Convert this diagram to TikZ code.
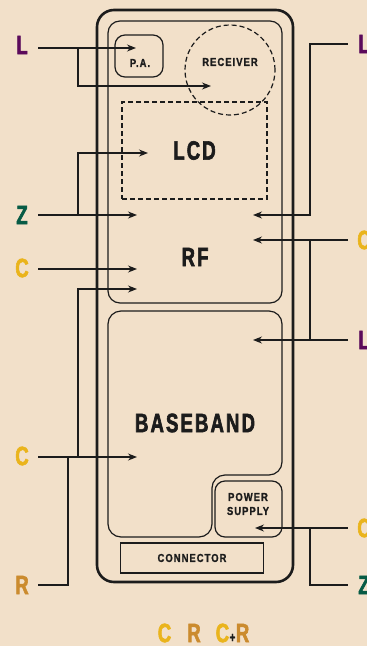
\documentclass[tikz,border=0pt]{standalone}
\usepackage{fontspec}
\usepackage{tikz}
\usetikzlibrary{arrows.meta,positioning,shapes.geometric,calc}
\usepackage{xcolor}
\newfontfamily\condfont[FakeStretch=0.7,LetterSpace=8,FakeBold=2.2]{Liberation Sans Bold}
\newfontfamily\narrowfont[FakeStretch=0.82,LetterSpace=9,FakeBold=1.2]{Liberation Sans Bold}
\definecolor{paper}{HTML}{F2E0C9}
\definecolor{ink}{HTML}{1C1C1C}
\definecolor{lpurple}{HTML}{5B0A5B}
\definecolor{zgreen}{HTML}{075B45}
\definecolor{cyellow}{HTML}{EAB41C}
\definecolor{rbrown}{HTML}{CB8B2E}

\begin{document}
\begin{tikzpicture}[x=1pt, y=-1pt, >={Stealth[length=9pt,width=7pt]},
    wire/.style={draw=ink, line width=1.2pt},
    outline/.style={draw=ink, line width=1.2pt},
    dashline/.style={draw=ink, line width=1.2pt, dash pattern=on 5pt off 3pt},
    bigtxt/.style={font=\condfont\fontsize{26.5}{30}\selectfont, inner sep=0pt, text=ink},
    smalltxt/.style={font=\narrowfont\fontsize{11.5}{14}\selectfont, inner sep=0pt, text=ink, align=center},
    tag/.style={font=\condfont\fontsize{26.5}{30}\selectfont, inner sep=0pt, minimum width=32pt}]

    \fill[paper] (0,0) rectangle (367,646);
    \useasboundingbox (0,0) rectangle (367,646);

    \draw[ink, line width=2.6pt, rounded corners=17pt] (97,10) rectangle (293,582);
    \draw[outline, rounded corners=12pt] (108,21) rectangle (282,303);
    \draw[outline, rounded corners=13pt] (160,537) -- (108,537) -- (108,311) -- (282,311)
        -- (282,475) -- (212,475) -- (212,537) -- cycle;

    \node[outline, rounded corners=10pt, minimum width=48pt, minimum height=42pt] (pa) at (139,56) {};
    \node[smalltxt] (patxt) at (140,63) {P.A.};
    \node[circle, dashline, minimum size=90pt, inner sep=0pt] (rx) at (230,70) {};
    \node[smalltxt] (rxtxt) at (230,62) {RECEIVER};
    \node[bigtxt, dashline, minimum width=145pt, minimum height=97pt] (lcd) at (194.5,150.5) {LCD};
    \node[bigtxt] (rf) at (195,257) {RF};
    \node[bigtxt] (bb) at (195,423) {BASEBAND};
    \node[outline, rounded corners=10pt, minimum width=67pt, minimum height=56pt] (ps) at (248.5,509) {};
    \node[smalltxt] (pstxt) at (248,504) {POWER\\SUPPLY};
    \node[smalltxt, outline, minimum width=143pt, minimum height=30pt] (conn) at (192,558) {CONNECTOR};

    \node[tag, text=lpurple] (l1) at (22,45) {L};
    \node[tag, text=zgreen] (z1) at (22,215) {Z};
    \node[tag, text=cyellow] (c1) at (22,268) {C};
    \node[tag, text=cyellow] (c2) at (22,456) {C};
    \node[tag, text=rbrown] (r1) at (22,585) {R};
    \node[tag, text=lpurple] (l2) at (364,44) {L};
    \node[tag, text=cyellow] (c3) at (364,240) {C};
    \node[tag, text=lpurple] (l3) at (364,340) {L};
    \node[tag, text=cyellow] (c4) at (364,528) {C};
    \node[tag, text=zgreen] (z2) at (364,585) {Z};

    \coordinate (paIn) at (136,48);
    \coordinate (rxIn) at (211,86);
    \coordinate (lcdIn) at (148,153);
    \coordinate (rfInZ) at (137,215);
    \coordinate (rfInC) at (137,269);
    \coordinate (rfInB) at (137,289);
    \coordinate (bbIn) at (137,457);
    \coordinate (rfInL) at (253,215);
    \coordinate (rfInR) at (253,240);
    \coordinate (bbInR) at (253,340);
    \coordinate (psIn) at (255,528);
    \coordinate (jL1) at (78,48);
    \coordinate (jZ1) at (78,215);
    \coordinate (jC2) at (78,457);
    \coordinate (jR) at (68,457);
    \coordinate (kL2) at (310,44);
    \coordinate (jC3) at (310,240);
    \coordinate (jL3) at (310,340);
    \coordinate (jC4) at (310,528);

    \draw[wire,->] (l1.east |- paIn) -- (paIn);
    \draw[wire,->] (jL1) |- (rxIn);
    \draw[wire,->] (z1.east) -- (rfInZ);
    \draw[wire,->] (jZ1) |- (lcdIn);
    \draw[wire,->] (c1.east |- rfInC) -- (rfInC);
    \draw[wire,->] (c2.east |- bbIn) -- (bbIn);
    \draw[wire,->] (jC2) |- (rfInB);
    \draw[wire] (r1.east) -| (jR);
    \draw[wire,->] (l2.west |- kL2) -- (kL2) |- (rfInL);
    \draw[wire,->] (c3.west) -- (rfInR);
    \draw[wire,->] (l3.west) -- (bbInR);
    \draw[wire] (jC3) -- (jL3);
    \draw[wire,->] (c4.west) -- (psIn);
    \draw[wire] (jC4) |- (z2.west);

    \node[tag, text=cyellow, minimum width=0pt] (legc) at (164.5,633) {C};
    \node[tag, text=rbrown, minimum width=0pt] (legr) at (194,633) {R};
    \node[tag, text=cyellow, minimum width=0pt] (legcr) at (232.5,633)
        {C\kern0.5pt{\color{ink}\fontsize{14}{14}\selectfont+}\kern0.5pt\textcolor{rbrown}{R}};
\end{tikzpicture}
\end{document}
